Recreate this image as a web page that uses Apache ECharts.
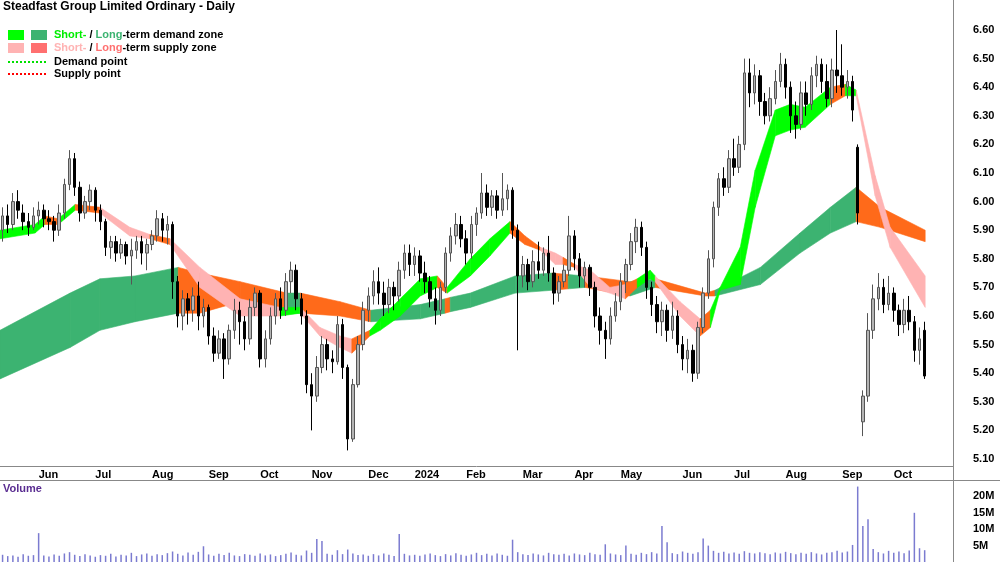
<!DOCTYPE html>
<html>
<head>
<meta charset="utf-8">
<script src="https://cdn.jsdelivr.net/npm/echarts@6/dist/echarts.min.js"></script>
<style>
	html, body { margin: 0; padding: 0; background: #fff; }
	#chart { width: 1000px; height: 562px; }
</style>
</head>
<body>
<div id="chart"></div>
<script>
// candles, one per ~2 trading days: [open, close, low, high]
const candles = [
	[5.90,5.95,5.86,5.98],[5.95,5.92,5.89,5.99],[5.92,6.00,5.90,6.03],[6.00,5.97,5.94,6.04],[5.96,5.93,5.90,5.99],[5.93,5.91,5.88,5.96],[5.91,5.95,5.90,5.98],[5.95,5.97,5.92,6.00],[5.97,5.94,5.91,5.99],[5.94,5.93,5.90,5.97],
	[5.93,5.90,5.86,5.95],[5.90,5.96,5.88,5.99],[5.96,6.06,5.94,6.08],[6.06,6.15,6.04,6.18],[6.15,6.05,6.02,6.17],[6.05,5.96,5.93,6.07],[5.96,6.00,5.94,6.02],[6.00,6.04,5.97,6.06],[6.04,5.97,5.93,6.05],[5.97,5.93,5.90,5.99],
	[5.93,5.84,5.81,5.94],[5.84,5.86,5.80,5.88],[5.86,5.82,5.79,5.88],[5.82,5.85,5.80,5.87],[5.85,5.81,5.78,5.86],[5.81,5.83,5.71,5.87],[5.83,5.86,5.80,5.88],[5.86,5.82,5.78,5.88],[5.82,5.85,5.76,5.87],[5.85,5.88,5.83,5.90],
	[5.88,5.94,5.86,5.97],[5.94,5.90,5.86,5.96],[5.90,5.92,5.85,5.95],[5.92,5.72,5.66,5.93],[5.72,5.60,5.56,5.74],[5.60,5.66,5.55,5.69],[5.66,5.62,5.57,5.68],[5.62,5.67,5.58,5.70],[5.67,5.60,5.55,5.72],[5.60,5.63,5.56,5.66],
	[5.63,5.53,5.50,5.64],[5.53,5.47,5.44,5.56],[5.47,5.52,5.45,5.55],[5.52,5.45,5.38,5.54],[5.45,5.55,5.43,5.57],[5.55,5.62,5.52,5.66],[5.62,5.58,5.50,5.65],[5.58,5.52,5.48,5.60],[5.52,5.63,5.50,5.66],[5.63,5.68,5.60,5.70],
	[5.68,5.45,5.42,5.69],[5.45,5.52,5.42,5.55],[5.52,5.60,5.50,5.63],[5.60,5.66,5.57,5.68],[5.66,5.62,5.59,5.70],[5.62,5.72,5.60,5.75],[5.72,5.76,5.68,5.79],[5.76,5.66,5.62,5.78],[5.66,5.60,5.57,5.68],[5.60,5.36,5.33,5.62],
	[5.36,5.32,5.20,5.40],[5.32,5.42,5.30,5.46],[5.42,5.50,5.40,5.53],[5.50,5.45,5.41,5.52],[5.45,5.44,5.40,5.48],[5.44,5.57,5.43,5.60],[5.57,5.42,5.38,5.59],[5.42,5.17,5.13,5.43],[5.17,5.36,5.16,5.38],[5.36,5.50,5.35,5.53],
	[5.50,5.62,5.48,5.65],[5.62,5.67,5.58,5.70],[5.67,5.72,5.64,5.76],[5.72,5.68,5.64,5.77],[5.68,5.64,5.60,5.72],[5.64,5.70,5.61,5.73],[5.70,5.67,5.62,5.72],[5.67,5.76,5.65,5.79],[5.76,5.82,5.73,5.85],[5.82,5.78,5.74,5.85],
	[5.78,5.81,5.74,5.84],[5.81,5.75,5.72,5.83],[5.75,5.72,5.68,5.79],[5.72,5.66,5.63,5.74],[5.66,5.62,5.57,5.70],[5.62,5.70,5.60,5.72],[5.70,5.82,5.68,5.84],[5.82,5.88,5.79,5.91],[5.88,5.92,5.85,5.96],[5.92,5.87,5.84,5.95],
	[5.87,5.82,5.78,5.90],[5.82,5.92,5.80,5.95],[5.92,5.96,5.88,5.98],[5.96,6.03,5.94,6.10],[6.03,5.98,5.95,6.06],[5.98,6.02,5.95,6.04],[6.02,5.97,5.94,6.04],[5.97,6.01,5.95,6.10],[6.01,6.04,5.97,6.06],[6.04,5.90,5.87,6.05],
	[5.90,5.74,5.48,5.92],[5.74,5.78,5.70,5.81],[5.78,5.72,5.69,5.80],[5.72,5.79,5.70,5.83],[5.79,5.76,5.73,5.86],[5.76,5.82,5.74,5.84],[5.82,5.75,5.72,5.88],[5.75,5.68,5.64,5.77],[5.68,5.72,5.65,5.74],[5.72,5.76,5.70,5.78],
	[5.76,5.88,5.74,5.95],[5.88,5.80,5.76,5.90],[5.80,5.74,5.70,5.82],[5.74,5.77,5.70,5.79],[5.77,5.70,5.67,5.78],[5.70,5.60,5.56,5.72],[5.60,5.55,5.50,5.63],[5.55,5.52,5.45,5.58],[5.52,5.60,5.50,5.63],[5.60,5.65,5.58,5.68],
	[5.65,5.72,5.62,5.75],[5.72,5.78,5.68,5.80],[5.78,5.86,5.76,5.89],[5.86,5.91,5.82,5.94],[5.91,5.84,5.81,5.93],[5.84,5.70,5.66,5.86],[5.70,5.64,5.60,5.72],[5.64,5.58,5.54,5.67],[5.58,5.62,5.53,5.65],[5.62,5.55,5.51,5.64],
	[5.55,5.60,5.52,5.65],[5.60,5.50,5.47,5.62],[5.50,5.45,5.41,5.53],[5.45,5.48,5.40,5.52],[5.48,5.40,5.37,5.50],[5.40,5.56,5.38,5.58],[5.56,5.68,5.54,5.70],[5.68,5.80,5.66,5.83],[5.80,5.98,5.77,6.00],[5.98,6.08,5.95,6.10],
	[6.08,6.05,6.02,6.12],[6.05,6.15,6.03,6.18],[6.15,6.12,6.09,6.22],[6.12,6.20,6.10,6.23],[6.20,6.45,6.18,6.50],[6.45,6.38,6.33,6.50],[6.38,6.44,6.34,6.48],[6.44,6.35,6.30,6.46],[6.35,6.30,6.27,6.38],[6.30,6.36,6.28,6.40],
	[6.36,6.42,6.34,6.46],[6.42,6.48,6.40,6.52],[6.48,6.40,6.36,6.50],[6.40,6.30,6.24,6.42],[6.30,6.27,6.22,6.35],[6.27,6.38,6.25,6.42],[6.38,6.34,6.30,6.42],[6.34,6.44,6.32,6.47],[6.44,6.48,6.40,6.51],[6.48,6.42,6.38,6.50],
	[6.42,6.36,6.33,6.48],[6.36,6.46,6.33,6.50],[6.46,6.44,6.38,6.60],[6.44,6.40,6.37,6.55],[6.40,6.42,6.36,6.46],[6.42,6.32,6.28,6.44],[6.19,5.96,5.92,6.20],[5.23,5.32,5.18,5.34],[5.32,5.55,5.30,5.61],[5.55,5.66,5.52,5.71],
	[5.66,5.70,5.62,5.75],[5.70,5.64,5.61,5.73],[5.64,5.68,5.62,5.74],[5.68,5.62,5.58,5.70],[5.62,5.57,5.53,5.64],[5.57,5.62,5.54,5.66],[5.62,5.58,5.55,5.67],[5.58,5.48,5.44,5.60],[5.48,5.52,5.43,5.56],[5.55,5.39,5.38,5.58]
];

// volume in millions, one per candle
const volume = [
	2.2,1.8,2.0,1.6,2.4,1.9,2.1,8.8,2.0,1.7,
	2.3,1.9,2.6,3.0,2.2,1.8,2.4,2.0,1.6,2.1,
	1.9,2.5,1.7,2.2,2.0,2.8,1.8,2.3,2.6,1.9,
	2.4,2.1,2.7,3.2,2.5,2.0,2.9,2.2,3.1,4.8,
	2.3,1.9,2.5,2.1,2.8,2.0,1.8,2.4,2.2,1.9,
	2.6,2.0,2.3,1.8,2.1,2.5,2.9,2.2,2.0,3.5,
	2.8,7.0,6.4,2.5,2.2,3.6,2.4,3.8,2.6,2.1,
	2.3,1.9,2.4,2.0,2.6,2.2,1.8,8.5,2.5,2.0,
	2.2,1.9,2.3,2.6,2.1,1.8,2.4,2.0,2.7,2.2,
	1.9,2.3,2.8,2.1,2.5,2.0,2.6,2.2,1.9,6.8,
	3.0,2.4,2.1,2.6,2.3,2.0,2.8,2.4,2.2,2.5,
	2.0,2.6,2.3,2.1,2.8,2.4,2.2,5.4,2.6,2.3,
	2.1,5.0,2.5,2.2,2.8,2.4,3.0,2.6,11.0,6.0,
	2.7,2.4,3.2,2.8,2.5,3.0,7.2,5.0,3.4,2.8,
	3.1,2.6,2.9,2.5,3.3,2.8,2.6,3.0,2.7,2.4,
	2.9,2.6,3.1,2.7,2.4,2.8,2.5,3.0,2.6,2.3,
	2.8,3.0,3.4,2.9,3.2,5.2,23.0,11.0,13.0,4.0,
	3.0,2.6,3.4,2.8,3.2,2.7,3.5,15.0,4.2,3.6
];

// month ticks as candle index
const monthTicks = [
	[7,'Jun'],[18,'Jul'],[29,'Aug'],[40,'Sep'],[50,'Oct'],[60,'Nov'],[71,'Dec'],[80,'2024'],
	[90,'Feb'],[101,'Mar'],[111,'Apr'],[120,'May'],[132,'Jun'],[142,'Jul'],[152,'Aug'],[163,'Sep'],[173,'Oct']
];

// long-term zone knots: [candle index, upper, lower, colour of following segment]
const longZone = [
	[-0.5,5.55,5.38,'G'],[13.1,5.68,5.49,'G'],[18.9,5.73,5.55,'G'],[25.7,5.74,5.58,'G'],[34.1,5.77,5.61,'o'],
	[38.3,5.75,5.61,'o'],[46.1,5.72,5.65,'o'],[55.2,5.68,5.61,'G'],[57.8,5.68,5.61,'o'],[65.5,5.65,5.60,'o'],
	[71.5,5.62,5.58,'G'],[81.1,5.64,5.59,'G'],[85.9,5.66,5.61,'o'],[86.9,5.665,5.615,'G'],[90.8,5.68,5.63,'G'],
	[99.5,5.74,5.68,'G'],[106.7,5.75,5.69,'o'],[109.8,5.745,5.695,'G'],[113.1,5.74,5.70,'o'],[121.8,5.72,5.67,'G'],
	[126.7,5.73,5.70,'o'],[136.4,5.68,5.67,'o'],[138.3,5.69,5.67,'G'],[147.1,5.77,5.71,'G'],[154.8,5.89,5.82,'G'],
	[160.7,5.98,5.89,'G'],[165.7,6.05,5.93,'o'],[170.4,5.98,5.91,'o'],[179.1,5.90,5.86,'o']
];

// short-term zone knots
const shortZone = [
	[-0.5,5.90,5.87,'g'],[6.3,5.92,5.89,'g'],[8.2,5.95,5.92,'o'],[10.8,5.94,5.92,'g'],[14.1,5.99,5.97,'o'],
	[18.9,5.98,5.96,'p'],[24.7,5.91,5.88,'p'],[28.6,5.885,5.87,'o'],[32.5,5.87,5.85,'p'],[38.3,5.77,5.70,'p'],
	[46.1,5.66,5.60,'p'],[53.9,5.63,5.60,'g'],[57.8,5.63,5.61,'p'],[61.6,5.56,5.53,'p'],[65.5,5.53,5.49,'p'],
	[67.8,5.52,5.47,'o'],[71.3,5.55,5.53,'g'],[73.3,5.59,5.55,'g'],[77.2,5.66,5.60,'g'],[81.1,5.73,5.67,'g'],
	[84.4,5.74,5.70,'o'],[86.3,5.70,5.68,'g'],[90.8,5.80,5.74,'g'],[94.6,5.87,5.81,'g'],[98.5,5.93,5.89,'o'],
	[101.4,5.88,5.85,'o'],[104.4,5.84,5.83,'p'],[107.3,5.82,5.78,'p'],[108.8,5.805,5.78,'o'],[111.1,5.78,5.77,'p'],
	[114.1,5.76,5.70,'p'],[117.9,5.70,5.68,'p'],[120.9,5.71,5.66,'o'],[123.2,5.73,5.70,'g'],[125.7,5.76,5.73,'g'],
	[126.7,5.74,5.72,'p'],[131.5,5.65,5.60,'p'],[135.4,5.59,5.53,'o'],[137.4,5.62,5.56,'g'],[139.3,5.70,5.69,'g'],
	[143.2,5.84,5.71,'g'],[146.1,6.11,5.98,'g'],[150,6.32,6.23,'g'],[152.9,6.34,6.25,'g'],[155.8,6.33,6.26,'g'],
	[160.7,6.40,6.34,'o'],[163.6,6.41,6.37,'g'],[165.7,6.39,6.37,'p'],[169.4,6.09,6.02,'p'],[172.3,5.91,5.84,'p'],
	[179.1,5.74,5.63,'p']
];

const zoneColors = { g: '#00ff00', G: '#3cb371', p: '#ffb3b3', o: '#ff6a1a' };
const slots = 185;

const categories = [];
for (let i = 0; i < slots; i++) categories.push('');
monthTicks.forEach(([i, name]) => { categories[i] = name; });

// one quad per pair of knots; colour comes from the first knot
function segments(knots) {
	const out = [];
	for (let k = 0; k < knots.length - 1; k++) {
		const a = knots[k], b = knots[k + 1];
		out.push([a[0], a[1], a[2], b[0], b[1], b[2]]);
	}
	return out;
}

function zoneRenderer(knots) {
	return function (params, api) {
		const p0 = api.coord([api.value(0), api.value(1)]);
		const p1 = api.coord([api.value(3), api.value(4)]);
		const p2 = api.coord([api.value(3), api.value(5)]);
		const p3 = api.coord([api.value(0), api.value(2)]);
		const c = zoneColors[knots[params.dataIndex][3]];
		return {
			type: 'polygon',
			shape: { points: [p0, p1, p2, p3] },
			style: { fill: c, stroke: c, lineWidth: 0.6 }
		};
	};
}

const chart = echarts.init(document.getElementById('chart'));
const showTick = (i, v) => v !== '';
const font = 'Arial, "Liberation Sans", sans-serif';

chart.setOption({
	animation: false,
	grid: [
		{ left: 0, right: 47, top: 1.4, height: 486.2 },
		{ left: 0, right: 47, top: 480, bottom: 0 }
	],
	xAxis: [
		{ type: 'category', gridIndex: 0, data: categories, show: false },
		{
			type: 'category', gridIndex: 1, data: categories, position: 'top', offset: 14,
			axisLine: { show: true, lineStyle: { color: '#888', width: 1 } },
			axisTick: { show: true, inside: true, length: 5, interval: showTick, alignWithLabel: true, lineStyle: { color: '#555' } },
			axisLabel: { inside: true, margin: 3, interval: showTick, align: 'left', color: '#000', fontSize: 11, fontFamily: font, fontWeight: 'bold' }
		},
		{ type: 'value', gridIndex: 0, min: -0.5, max: slots - 0.5, show: false }
	],
	yAxis: [
		{
			type: 'value', gridIndex: 0, position: 'right', min: 5.0, max: 6.7, interval: 0.1,
			splitLine: { show: false }, axisLine: { show: false },
			axisTick: { show: false },
			axisLabel: {
				margin: 20, color: '#000', fontSize: 11, fontFamily: font, fontWeight: 'bold',
				formatter: v => (v > 5.05 && v < 6.65) ? v.toFixed(2) : ''
			}
		},
		{
			type: 'value', gridIndex: 1, position: 'right', min: 0, max: 25, interval: 5,
			splitLine: { show: false }, axisLine: { show: false }, axisTick: { show: false },
			axisLabel: {
				margin: 20, color: '#000', fontSize: 11, fontFamily: font, fontWeight: 'bold',
				formatter: v => (v > 0 && v < 25) ? v + 'M' : ''
			}
		}
	],
	series: [
		{
			type: 'custom', xAxisIndex: 2, yAxisIndex: 0, renderItem: zoneRenderer(longZone), clip: true,
			encode: { x: [0, 3], y: [1, 2, 4, 5] }, data: segments(longZone), z: 1
		},
		{
			type: 'custom', xAxisIndex: 2, yAxisIndex: 0, renderItem: zoneRenderer(shortZone), clip: true,
			encode: { x: [0, 3], y: [1, 2, 4, 5] }, data: segments(shortZone), z: 2
		},
		{
			type: 'candlestick', xAxisIndex: 0, yAxisIndex: 0, data: candles, barWidth: 3, z: 3,
			itemStyle: { color: '#b4b4b4', borderColor: '#555', color0: '#000', borderColor0: '#000', borderWidth: 1 }
		},
		{
			type: 'bar', xAxisIndex: 1, yAxisIndex: 1, data: volume, barWidth: 1.5,
			itemStyle: { color: '#7b7bd0' }
		}
	],
	graphic: [
		{ type: 'line', shape: { x1: 953.5, y1: 0, x2: 953.5, y2: 562 }, style: { stroke: '#888', lineWidth: 1 } },
		{ type: 'line', shape: { x1: 0, y1: 466.5, x2: 953, y2: 466.5 }, style: { stroke: '#888', lineWidth: 1 } },
		{ type: 'line', shape: { x1: 0, y1: 480.5, x2: 1000, y2: 480.5 }, style: { stroke: '#888', lineWidth: 1 } },
		{ type: 'text', left: 3, top: 1, style: { text: 'Steadfast Group Limited Ordinary - Daily', font: 'bold 12px ' + font, fill: '#000' } },
		{ type: 'text', left: 3, top: 483, style: { text: 'Volume', font: 'bold 11px ' + font, fill: '#5a2d91' } },
		{ type: 'rect', shape: { x: 8, y: 30, width: 16, height: 10 }, style: { fill: '#00ff00' } },
		{ type: 'rect', shape: { x: 31, y: 30, width: 16, height: 10 }, style: { fill: '#3cb371' } },
		{ type: 'rect', shape: { x: 8, y: 43, width: 16, height: 10 }, style: { fill: '#ffb3b3' } },
		{ type: 'rect', shape: { x: 31, y: 43, width: 16, height: 10 }, style: { fill: '#ff7070' } },
		{ type: 'line', shape: { x1: 8, y1: 62, x2: 46, y2: 62 }, style: { stroke: '#00e000', lineWidth: 2, lineDash: [2, 2] } },
		{ type: 'line', shape: { x1: 8, y1: 74, x2: 46, y2: 74 }, style: { stroke: '#ff0000', lineWidth: 2, lineDash: [2, 2] } },
		{
			type: 'text', left: 54, top: 29,
			style: {
				text: '{a|Short-} / {b|Long}-term demand zone',
				font: 'bold 11px ' + font, fill: '#000',
				rich: { a: { fill: '#00ee00', font: 'bold 11px ' + font }, b: { fill: '#3cb371', font: 'bold 11px ' + font } }
			}
		},
		{
			type: 'text', left: 54, top: 42,
			style: {
				text: '{a|Short-} / {b|Long}-term supply zone',
				font: 'bold 11px ' + font, fill: '#000',
				rich: { a: { fill: '#ffb3b3', font: 'bold 11px ' + font }, b: { fill: '#ff7070', font: 'bold 11px ' + font } }
			}
		},
		{ type: 'text', left: 54, top: 56, style: { text: 'Demand point', font: 'bold 11px ' + font, fill: '#000' } },
		{ type: 'text', left: 54, top: 68, style: { text: 'Supply point', font: 'bold 11px ' + font, fill: '#000' } }
	]
});
</script>
</body>
</html>
